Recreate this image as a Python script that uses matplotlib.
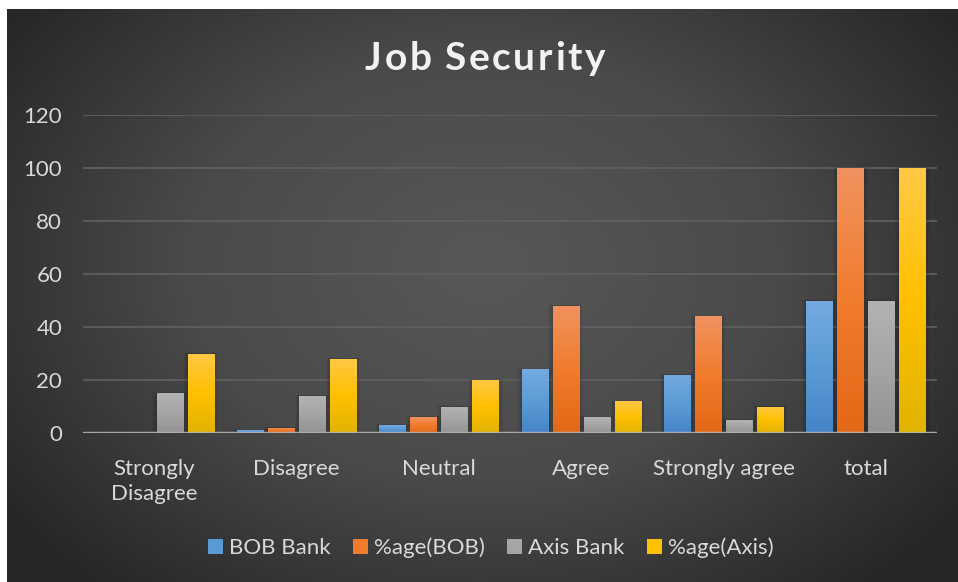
import numpy as np
import matplotlib
matplotlib.use("Agg")
import matplotlib.pyplot as plt
from matplotlib.patches import Patch, Rectangle
from matplotlib.colors import LinearSegmentedColormap

categories = ["Strongly\nDisagree", "Disagree", "Neutral", "Agree", "Strongly agree", "total"]
bob_bank = [0, 1, 3, 24, 22, 50]
pct_bob = [0, 2, 6, 48, 44, 100]
axis_bank = [15, 14, 10, 6, 5, 50]
pct_axis = [30, 28, 20, 12, 10, 100]

series = [
    ("BOB Bank", bob_bank, ("#74aae0", "#5b9bd5", "#4585c8")),
    ("%age(BOB)", pct_bob, ("#f29260", "#f07c2c", "#e36817")),
    ("Axis Bank", axis_bank, ("#b3b3b3", "#a5a5a5", "#939393")),
    ("%age(Axis)", pct_axis, ("#ffc845", "#ffc000", "#e2b300")),
]

plt.rcParams['font.family'] = ['Lato', 'DejaVu Sans']
text_col = "#d9d9d9"

fig = plt.figure(figsize=(9.58, 5.82), dpi=100, facecolor="white")
W, H = 958, 582

# dark radial backdrop
bg = fig.add_axes([7 / W, 0, 951 / W, 573 / H])
bg.set_axis_off()
gx, gy = np.meshgrid(np.linspace(0, 1, 400), np.linspace(0, 1, 250))
r = np.sqrt(((gx - 0.5) / 0.62) ** 2 + ((gy - 0.55) / 0.75) ** 2)
r = np.clip(r, 0, 1)
bg_cmap = LinearSegmentedColormap.from_list("bg", ["#585858", "#4a4a4a", "#262626"])
bg.imshow(r, cmap=bg_cmap, aspect="auto", extent=[0, 1, 0, 1], origin="lower", vmin=0, vmax=1)

ax = fig.add_axes([83 / W, (H - 433) / H, (937 - 83) / W, (433 - 115) / H])
ax.patch.set_alpha(0)

x = np.arange(len(categories))
bw = 0.183
step = 0.218
offsets = (np.arange(4) - 1.5) * step

for k, (name, vals, cols) in enumerate(series):
    cmap = LinearSegmentedColormap.from_list(name, [cols[2], cols[1], cols[0]])
    bars = ax.bar(x + offsets[k], vals, bw, color=cols[1], zorder=3, linewidth=0)
    for b in bars:
        h = b.get_height()
        if h <= 0:
            continue
        x0 = b.get_x()
        # soft shadow, mostly to the sides
        for s in range(1, 6):
            ax.add_patch(Rectangle((x0 - 0.006 * s, 0), bw + 0.012 * s, h + 0.08 * s,
                                   color="black", alpha=0.035, lw=0, zorder=2))
        grad = np.linspace(0, 1, 100).reshape(-1, 1)
        im = ax.imshow(grad, cmap=cmap, aspect="auto", origin="lower",
                       extent=[x0, x0 + bw, 0, h], zorder=3.5)
        im.set_clip_path(b)

ax.set_xlim(-0.5, len(categories) - 0.5)
ax.set_ylim(0, 120)

ax.yaxis.grid(True, color="#606060", lw=1.5, alpha=0.85, zorder=0)
ax.set_axisbelow(True)
ax.axhline(0, color="#b5b5b5", lw=2.5, alpha=0.85, zorder=5)
for sp in ax.spines.values():
    sp.set_visible(False)

ax.set_yticks(np.arange(0, 121, 20))
ax.set_xticks(x)
ax.set_xticklabels(categories, linespacing=1.3)
ax.tick_params(axis="both", length=0, colors=text_col, labelsize=16)
ax.tick_params(axis="x", pad=19)
ax.tick_params(axis="y", pad=15)
for lbl in ax.get_xticklabels():
    lbl.set_verticalalignment("top")

# title with letter spacing, placed char by char to span a fixed width
title = "Job Security"
renderer = fig.canvas.get_renderer()
pieces = []
for ch in title:
    t = fig.text(0, 0, ch, fontsize=28, fontweight="bold", color="#f2f2f2")
    w = t.get_window_extent(renderer).width if ch != " " else 8.0
    pieces.append((t, w))
span = 240
tracking = (span - sum(w for _, w in pieces)) / (len(pieces) - 1)
cx = 485 - span / 2
for t, w in pieces:
    t.set_position((cx / W, 1 - 70 / H))
    t.set_va("baseline")
    cx += w + tracking

handles = [Patch(facecolor=c[1], edgecolor="none", label=n) for n, _, c in series]
fig.legend(handles=handles, loc="center", bbox_to_anchor=(491 / W, 1 - 548 / H), ncol=4,
           frameon=False, fontsize=16, labelcolor=text_col, handlelength=0.65,
           handleheight=0.65, handletextpad=0.3, columnspacing=1.0)

fig.savefig("out.png", dpi=100, facecolor=fig.get_facecolor())
